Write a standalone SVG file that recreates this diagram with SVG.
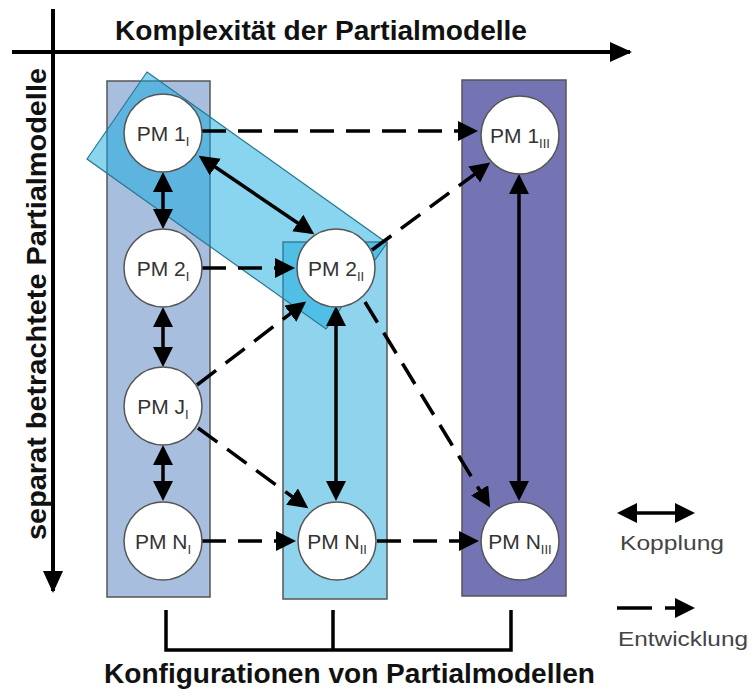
<svg xmlns="http://www.w3.org/2000/svg" width="752" height="693" viewBox="0 0 752 693">
<style>
.title{font-family:"Liberation Sans",Arial,sans-serif;font-weight:bold;font-size:27px;fill:#111}
.lbl{font-family:"Liberation Sans",Arial,sans-serif;font-size:21px;fill:#333;text-anchor:middle}
.sub{font-size:13px}
.leg{font-family:"Liberation Sans",Arial,sans-serif;font-size:21px;fill:#444}
.col{stroke:#555;stroke-width:1.5}
.node{fill:#fff;stroke:#555;stroke-width:1.5}
.cpl{stroke:#000;stroke-width:3.5;fill:none;marker-start:url(#ah);marker-end:url(#ah)}
.dev{stroke:#000;stroke-width:3.5;fill:none;stroke-dasharray:24 12;marker-end:url(#ah)}
.axis{stroke:#000;stroke-width:4;fill:none}
</style>
<defs>
<marker id="ah" viewBox="0 0 20 20" refX="16" refY="10" markerWidth="20" markerHeight="20" markerUnits="userSpaceOnUse" orient="auto-start-reverse">
<path d="M0,0 L20,10 L0,20 z" fill="#000"/>
</marker>
<marker id="axh" viewBox="0 0 22 20" refX="20" refY="10" markerWidth="22" markerHeight="20" markerUnits="userSpaceOnUse" orient="auto">
<path d="M0,0 L22,10 L0,20 z" fill="#000"/>
</marker>
</defs>
<rect width="752" height="693" fill="#fff"/>

<g id="axes">
<line class="axis" x1="12" y1="52" x2="630" y2="52" marker-end="url(#axh)"/>
<line class="axis" x1="53" y1="9" x2="53" y2="591" marker-end="url(#axh)"/>
<text class="title" x="115" y="40" textLength="412" lengthAdjust="spacingAndGlyphs">Komplexität der Partialmodelle</text>
<text class="title" transform="translate(46,540) rotate(-90)" x="0" y="0" textLength="472" lengthAdjust="spacingAndGlyphs">separat betrachtete Partialmodelle</text>
</g>

<g id="columns">
<rect class="col" x="107" y="81" width="103" height="516" fill="#a7bedf"/>
<rect class="col" x="283" y="242" width="104" height="357" fill="#8fd3ec"/>
<rect class="col" x="462" y="80" width="104" height="516" fill="#7474b4"/>
<polygon points="147,72 387,243 326,329 87,159" fill="#14aade" fill-opacity="0.5" stroke="#2a7890" stroke-width="1.2"/>
</g>

<g id="connectors">
<line class="cpl" x1="163" y1="176" x2="163" y2="225"/>
<line class="cpl" x1="163" y1="311" x2="163" y2="363"/>
<line class="cpl" x1="163" y1="449" x2="163" y2="497"/>
<line class="cpl" x1="202" y1="158" x2="311" y2="232"/>
<line class="cpl" x1="336" y1="310" x2="336" y2="497"/>
<line class="cpl" x1="519" y1="178" x2="519" y2="497"/>
<line class="dev" x1="202" y1="131" x2="474" y2="131"/>
<line class="dev" x1="202" y1="268" x2="291" y2="268"/>
<line class="dev" x1="197" y1="385" x2="303" y2="304"/>
<line class="dev" x1="198" y1="428" x2="305" y2="506"/>
<line class="dev" x1="202" y1="541" x2="292" y2="541"/>
<line class="dev" x1="377" y1="541" x2="475" y2="541"/>
<line class="dev" x1="372" y1="250" x2="487" y2="165"/>
<line class="dev" x1="365" y1="302" x2="488" y2="504"/>
</g>

<g id="pm1_i"><circle class="node" cx="163" cy="133" r="39"/><text class="lbl" x="163" y="141">PM 1<tspan class="sub" dy="5">I</tspan></text></g>
<g id="pm2_i"><circle class="node" cx="163" cy="268" r="39"/><text class="lbl" x="163" y="276">PM 2<tspan class="sub" dy="5">I</tspan></text></g>
<g id="pmj_i"><circle class="node" cx="163" cy="406" r="39"/><text class="lbl" x="163" y="414">PM J<tspan class="sub" dy="5">I</tspan></text></g>
<g id="pmn_i"><circle class="node" cx="163" cy="541" r="39"/><text class="lbl" x="163" y="549">PM N<tspan class="sub" dy="5">I</tspan></text></g>
<g id="pm2_ii"><circle class="node" cx="336" cy="268" r="39"/><text class="lbl" x="336" y="276">PM 2<tspan class="sub" dy="5">II</tspan></text></g>
<g id="pmn_ii"><circle class="node" cx="337" cy="541" r="39"/><text class="lbl" x="337" y="549">PM N<tspan class="sub" dy="5">II</tspan></text></g>
<g id="pm1_iii"><circle class="node" cx="520" cy="135" r="39"/><text class="lbl" x="520" y="143">PM 1<tspan class="sub" dy="5">III</tspan></text></g>
<g id="pmn_iii"><circle class="node" cx="520" cy="541" r="39"/><text class="lbl" x="520" y="549">PM N<tspan class="sub" dy="5">III</tspan></text></g>

<g id="bracket">
<path d="M166,610 V650 H511 V610 M333,610 V650" stroke="#000" stroke-width="3.5" fill="none"/>
<text class="title" x="104" y="683" textLength="491" lengthAdjust="spacingAndGlyphs">Konfigurationen von Partialmodellen</text>
</g>

<g id="legend">
<line class="cpl" x1="621" y1="513" x2="691" y2="513"/>
<text class="leg" x="620" y="550" textLength="104" lengthAdjust="spacingAndGlyphs">Kopplung</text>
<line x1="617" y1="608" x2="652" y2="608" stroke="#000" stroke-width="3.5"/>
<line x1="665" y1="608" x2="691" y2="608" stroke="#000" stroke-width="3.5" marker-end="url(#ah)"/>
<text class="leg" x="618" y="646" textLength="130" lengthAdjust="spacingAndGlyphs">Entwicklung</text>
</g>
</svg>
